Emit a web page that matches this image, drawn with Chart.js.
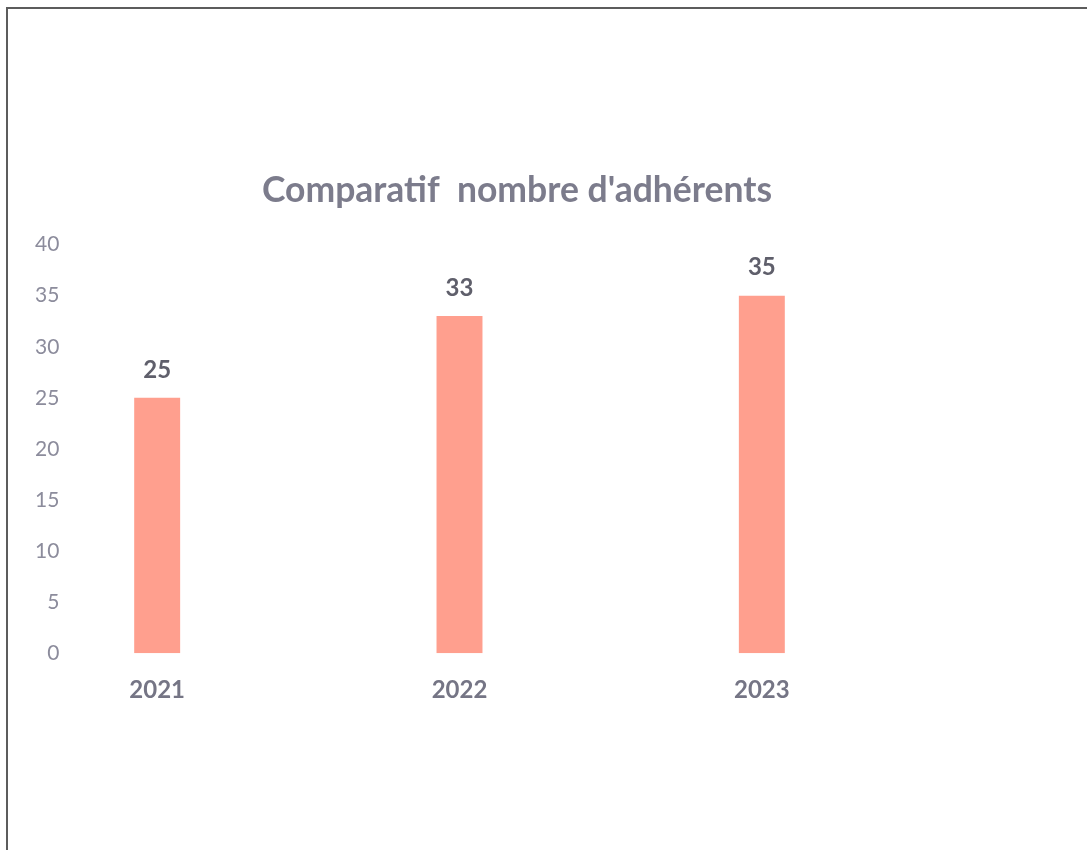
<!DOCTYPE html>
<html>
<head>
<meta charset="utf-8">
<script src="https://cdn.jsdelivr.net/npm/chart.js@4.4.1/dist/chart.umd.min.js"></script>
<style>
  html, body { margin: 0; padding: 0; background: #fff; }
  #wrap { position: relative; width: 1087px; height: 850px; }
  #frame {
    position: absolute; left: 6px; top: 7px; right: 0; bottom: 0;
    border-left: 2px solid #5c5c5c; border-top: 2px solid #5c5c5c;
    pointer-events: none;
  }
</style>
</head>
<body>
<div id="wrap">
  <canvas id="chart" width="1087" height="850"></canvas>
  <div id="frame"></div>
</div>
<script>
// Données
const years = ['2021', '2022', '2023'];
const adherents = [25, 33, 35];
const yTicks = [0, 5, 10, 15, 20, 25, 30, 35, 40];

const barColor = '#ff9f8e';
const font = 'Lato, "Open Sans", sans-serif';

// Étiquettes de valeur au-dessus des barres
const valueLabels = {
    id: 'valueLabels',
    afterDatasetsDraw(chart) {
        const ctx = chart.ctx;
        const meta = chart.getDatasetMeta(0);
        ctx.save();
        ctx.font = 'bold 24px ' + font;
        ctx.fillStyle = '#5f5f6b';
        ctx.textAlign = 'center';
        ctx.textBaseline = 'bottom';
        meta.data.forEach((bar, i) => {
            ctx.fillText(adherents[i], bar.x, bar.y - 16);
        });
        ctx.restore();
    }
};

new Chart(document.getElementById('chart'), {
    type: 'bar',
    data: {
        labels: years,
        datasets: [{
            data: adherents,
            backgroundColor: barColor,
            borderWidth: 0,
            barPercentage: 0.76,
            categoryPercentage: 0.2
        }]
    },
    options: {
        responsive: false,
        animation: false,
        layout: { padding: { left: 6, right: 59, top: 169, bottom: 130 } },
        plugins: {
            legend: { display: false },
            tooltip: { enabled: false },
            title: {
                display: true,
                text: "Comparatif  nombre d'adhérents",
                color: '#7c7c8c',
                font: { family: font, size: 35.5, weight: 'bold' },
                padding: { top: 0, bottom: 33 }
            }
        },
        scales: {
            x: {
                grid: { display: false },
                border: { display: false },
                ticks: {
                    color: '#757585',
                    font: { family: font, size: 24, weight: 'bold' },
                    padding: 15
                }
            },
            y: {
                min: 0,
                max: 40,
                afterBuildTicks: (scale) => { scale.ticks = yTicks.map(v => ({ value: v })); },
                afterFit: (scale) => { scale.width = 0; },
                grid: { display: false, drawTicks: false },
                border: { display: false },
                ticks: {
                    mirror: true,
                    crossAlign: 'far',
                    padding: 29,
                    color: '#8c8c9c',
                    font: { family: font, size: 21 }
                }
            },
            yRight: {
                position: 'right',
                display: true,
                grid: { display: false },
                border: { display: false },
                ticks: { display: false },
                afterFit: (scale) => { scale.width = 115; }
            }
        }
    },
    plugins: [valueLabels]
});
</script>
</body>
</html>
